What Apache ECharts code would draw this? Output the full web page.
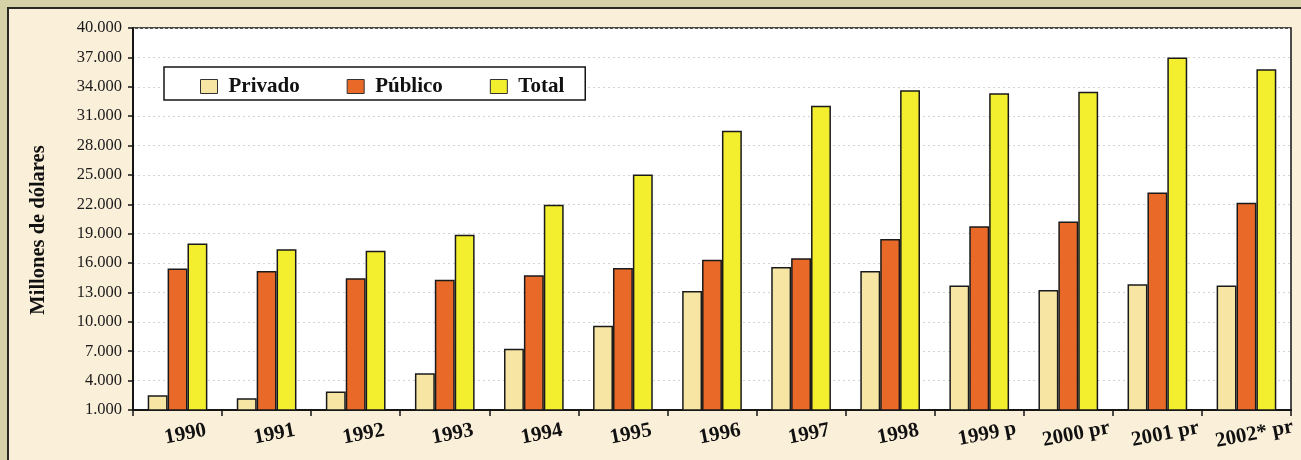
<!DOCTYPE html>
<html>
<head>
<meta charset="utf-8">
<script src="https://cdn.jsdelivr.net/npm/echarts@6/dist/echarts.min.js"></script>
<style>
  html, body { margin: 0; padding: 0; width: 1301px; height: 460px; overflow: hidden; background: #d6d2a8; }
  #panel { position: absolute; left: 7px; top: 7px; width: 1310px; height: 470px; background: #faefd9;
           border-top: 2px solid #2a2a24; border-left: 2px solid #2a2a24; }
  #chart { position: absolute; left: 0; top: 0; width: 1301px; height: 460px; }
</style>
</head>
<body>
<div id="panel"></div>
<div id="chart"></div>
<script>
const categories = ["1990", "1991", "1992", "1993", "1994", "1995", "1996", "1997", "1998", "1999 p", "2000 pr", "2001 pr", "2002* pr"];
const privado = [2500, 2200, 2900, 4750, 7250, 9600, 13150, 15600, 15200, 13700, 13250, 13850, 13700];
const publico = [15450, 15200, 14450, 14300, 14750, 15500, 16350, 16500, 18450, 19750, 20250, 23200, 22150];
const total = [18000, 17400, 17250, 18900, 21950, 25050, 29500, 32050, 33650, 33350, 33500, 37000, 35800];
const yTicks = [1000, 4000, 7000, 10000, 13000, 16000, 19000, 22000, 25000, 28000, 31000, 34000, 37000, 40000];
const seriesNames = ["Privado", "Público", "Total"];
const seriesColors = ["#f7e6a3", "#e96a28", "#f3ee2e"];

function fmt(v) {
  return String(v).replace(/\B(?=(\d{3})+(?!\d))/g, ".");
}

const chart = echarts.init(document.getElementById('chart'), null, { renderer: 'canvas' });
const serif = "'Liberation Serif', 'Times New Roman', serif";
const data = [privado, publico, total];

chart.setOption({
  backgroundColor: 'transparent',
  animation: false,
  textStyle: { fontFamily: serif },
  grid: {
    left: 133, top: 28, right: 10, bottom: 50,
    show: true, backgroundColor: '#ffffff', borderColor: '#151515', borderWidth: 1.5,
    containLabel: false
  },
  legend: {
    left: 164, top: 67,
    padding: [9, 21, 3, 36],
    itemWidth: 17, itemHeight: 14, itemGap: 47,
    backgroundColor: '#ffffff', borderColor: '#151515', borderWidth: 1.5,
    icon: 'rect',
    itemStyle: { borderColor: '#333', borderWidth: 1 },
    textStyle: { fontFamily: serif, fontSize: 21, fontWeight: 'bold', color: '#111', padding: [0, 0, 0, 6] },
    data: seriesNames
  },
  xAxis: {
    type: 'category',
    data: categories,
    axisLine: { lineStyle: { color: '#151515', width: 2 } },
    axisTick: { show: true, length: 6, lineStyle: { color: '#151515', width: 1.5 } },
    axisLabel: {
      rotate: 11, align: 'center', verticalAlign: 'top', margin: 15,
      padding: [0, 0, 0, 12],
      fontFamily: serif, fontSize: 21, fontWeight: 'bold', color: '#111',
      interval: 0
    },
    splitLine: { show: false }
  },
  yAxis: {
    type: 'value',
    min: yTicks[0], max: yTicks[yTicks.length - 1],
    name: 'Millones de dólares',
    nameLocation: 'middle',
    nameGap: 84,
    nameTextStyle: { fontFamily: serif, fontSize: 20.5, fontWeight: 'bold', color: '#111', padding: [0, 22, 0, 0] },
    axisLine: { show: true, lineStyle: { color: '#151515', width: 2 } },
    axisTick: { show: true, length: 5, customValues: yTicks, lineStyle: { color: '#151515', width: 1.5 } },
    axisLabel: {
      customValues: yTicks, margin: 11,
      fontFamily: serif, fontSize: 16.5, color: '#1a1a1a',
      formatter: v => fmt(v)
    },
    splitLine: { show: true, lineStyle: { color: '#d4d4d4', type: [2, 3], width: 1 } }
  },
  series: seriesNames.map((n, i) => ({
    name: n,
    type: 'bar',
    data: data[i],
    barGap: '0%',
    barCategoryGap: '33%',
    itemStyle: { color: seriesColors[i], borderColor: '#1a1a1a', borderWidth: 1.5 }
  }))
});
</script>
</body>
</html>
